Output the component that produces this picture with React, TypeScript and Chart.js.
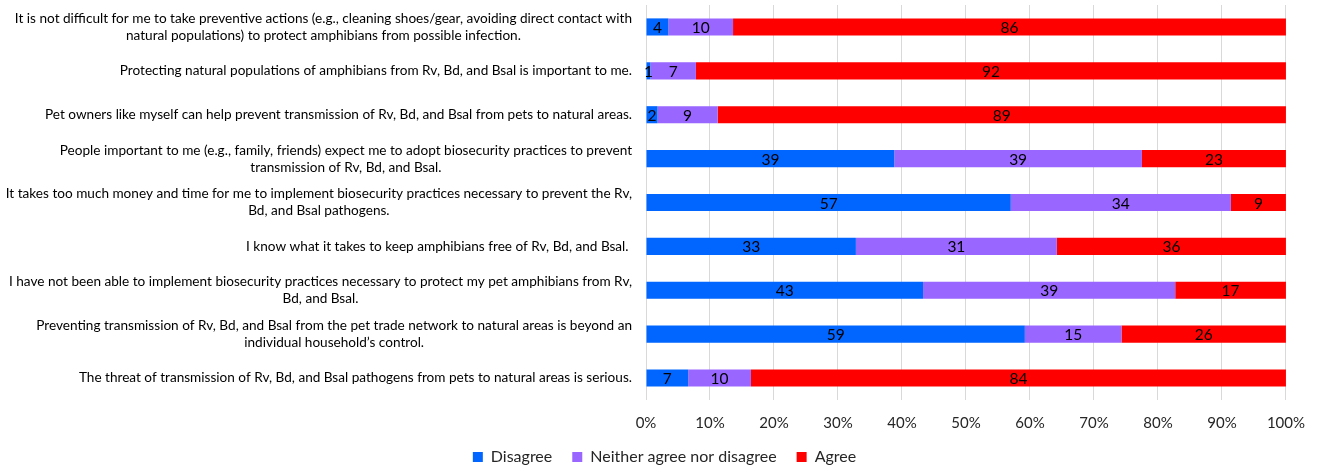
import React, { useEffect, useRef } from "react";
import { Chart, registerables } from "chart.js";

Chart.register(...registerables);

const statements: string[][] = [
  [
    "It is not difficult for me to take preventive actions (e.g., cleaning shoes/gear, avoiding direct contact with",
    "natural populations) to protect amphibians from possible infection.",
  ],
  ["Protecting natural populations of amphibians from Rv, Bd, and Bsal is important to me."],
  ["Pet owners like myself can help prevent transmission of Rv, Bd, and Bsal from pets to natural areas."],
  [
    "People important to me (e.g., family, friends) expect me to adopt biosecurity practices to prevent",
    "transmission of Rv, Bd, and Bsal.",
  ],
  [
    "It takes too much money and time for me to implement biosecurity practices necessary to prevent the Rv,",
    "Bd, and Bsal pathogens.",
  ],
  ["I know what it takes to keep amphibians free of Rv, Bd, and Bsal. "],
  [
    "I have not been able to implement biosecurity practices necessary to protect my pet amphibians from Rv,",
    "Bd, and Bsal.",
  ],
  [
    "Preventing transmission of Rv, Bd, and Bsal from the pet trade network to natural areas is beyond an",
    "individual household\u2019s control.",
  ],
  ["The threat of transmission of Rv, Bd, and Bsal pathogens from pets to natural areas is serious."],
];

const disagree = [3.5, 0.7, 1.8, 38.8, 57.0, 32.8, 43.3, 59.2, 6.6];
const neither = [10.1, 7.1, 9.4, 38.7, 34.4, 31.4, 39.4, 15.1, 9.8];
const agree = [86.4, 92.2, 88.8, 22.5, 8.6, 35.8, 17.3, 25.7, 83.6];

const seriesNames = ["Disagree", "Neither agree nor disagree", "Agree"];
const seriesColors = ["#0066FF", "#9966FF", "#FF0000"];
const xMin = 0;
const xMax = 100;
const xStep = 10;

const FONT = "Lato, 'Open Sans', sans-serif";

const valueLabels = {
  id: "valueLabels",
  afterDatasetsDraw(chart: any) {
    const ctx = chart.ctx;
    ctx.save();
    ctx.font = `15.5px ${FONT}`;
    ctx.fillStyle = "#000000";
    ctx.textAlign = "center";
    ctx.textBaseline = "middle";
    chart.data.datasets.forEach((ds: any, i: number) => {
      const meta = chart.getDatasetMeta(i);
      meta.data.forEach((bar: any, j: number) => {
        const p = bar.getProps(["x", "y", "base"], true);
        ctx.fillText(String(Math.round(ds.data[j])), (p.x + p.base) / 2, p.y + 1);
      });
    });
    ctx.restore();
  },
};

const categoryLabels = {
  id: "categoryLabels",
  afterDraw(chart: any) {
    const ctx = chart.ctx;
    const yScale = chart.scales.y;
    const right = chart.chartArea.left - 14;
    const lineH = 17;
    ctx.save();
    ctx.font = `13.6px ${FONT}`;
    ctx.fillStyle = "#000000";
    ctx.textAlign = "center";
    ctx.textBaseline = "middle";
    statements.forEach((lines, j) => {
      const w = Math.max(...lines.map((l) => ctx.measureText(l).width));
      const cx = right - w / 2;
      const cy = yScale.getPixelForValue(j);
      lines.forEach((l, k) => {
        ctx.fillText(l, cx, cy + (k - (lines.length - 1) / 2) * lineH);
      });
    });
    ctx.restore();
  },
};

export default function App() {
  const ref = useRef<HTMLCanvasElement | null>(null);

  useEffect(() => {
    if (!ref.current) return;
    const chart = new Chart(ref.current, {
      type: "bar",
      data: {
        labels: statements.map((s) => s.join(" ")),
        datasets: [disagree, neither, agree].map((d, i) => ({
          label: seriesNames[i],
          data: d,
          backgroundColor: seriesColors[i],
          borderWidth: 0,
          barPercentage: 0.39,
          categoryPercentage: 1,
        })),
      },
      options: {
        indexAxis: "y",
        animation: false,
        responsive: true,
        maintainAspectRatio: false,
        layout: { padding: { top: 5, right: 32, left: 42, bottom: -9 } },
        scales: {
          x: {
            stacked: true,
            min: xMin,
            max: xMax,
            grid: { color: "#D9D9D9", drawTicks: false, lineWidth: 1 },
            border: { display: false },
            ticks: {
              stepSize: xStep,
              padding: 14,
              color: "#262626",
              font: { family: FONT, size: 15 },
              callback: (v: any) => `${v}%`,
            },
            afterFit: (scale: any) => {
              scale.height = 29;
            },
          },
          y: {
            stacked: true,
            grid: { display: false },
            border: { display: false },
            ticks: { display: false },
            afterFit: (scale: any) => {
              scale.width = 604;
            },
          },
        },
        plugins: {
          legend: {
            position: "bottom",
            labels: {
              boxWidth: 10,
              boxHeight: 10,
              padding: 20,
              color: "#262626",
              font: { family: FONT, size: 16 },
            },
          },
          tooltip: { enabled: false },
        },
      },
      plugins: [valueLabels, categoryLabels],
    });
    return () => chart.destroy();
  }, []);

  return (
    <div style={{ position: "absolute", left: 0, top: 0, width: 1319, height: 466, background: "#fff" }}>
      <canvas ref={ref} />
    </div>
  );
}
